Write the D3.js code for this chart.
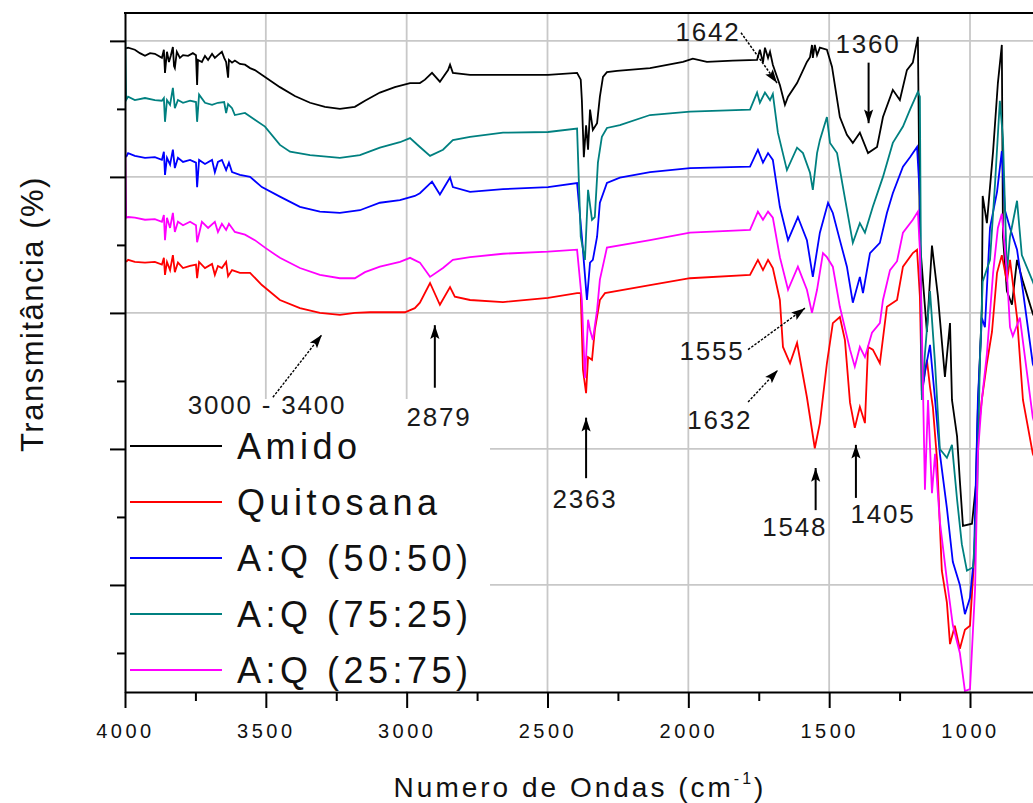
<!DOCTYPE html>
<html>
<head>
<meta charset="utf-8">
<script src="https://cdn.jsdelivr.net/npm/d3@7/dist/d3.min.js"></script>
<style>
  html, body { margin: 0; padding: 0; background: #fff; }
  svg { display: block; font-family: "Liberation Sans", Arial, sans-serif; }
</style>
</head>
<body>
<svg id="chart" width="1033" height="803"></svg>
<script>
// FTIR spectra: [wavenumber (cm-1), transmittance (arbitrary, curves offset)]
const amido = [
  [3996,98.9],[3989,99.0],[3965,98.7],[3947,98.2],[3929,97.8],[3911,98.2],[3894,98.1],[3869,97.5],[3862,98.7],[3858,95.3],
  [3851,98.4],[3844,96.9],[3837,97.9],[3830,99.1],[3826,96.3],[3823,96.0],[3816,98.4],[3805,97.5],[3794,97.9],[3776,97.8],
  [3759,98.2],[3748,97.9],[3744,93.5],[3741,97.2],[3727,96.9],[3716,97.8],[3705,97.2],[3691,98.1],[3681,97.5],[3670,97.9],
  [3656,98.4],[3648,97.5],[3641,96.9],[3634,94.6],[3631,97.2],[3620,96.8],[3610,97.1],[3592,96.6],[3574,96.5],[3556,96.0],
  [3539,95.7],[3503,94.7],[3450,93.2],[3397,91.9],[3343,90.9],[3290,90.3],
  [3237,90.0],[3184,90.3],[3148,91.2],[3095,92.4],[3042,93.2],[2988,93.8],[2953,93.8],[2935,94.3],[2910,95.3],[2882,94.0],
  [2853,95.7],[2846,96.5],[2836,95.3],[2775,95.0],[2498,95.0],[2395,95.3],[2382,94.3],[2378,91.3],[2371,82.9],[2363,87.6],
  [2356,84.0],[2349,89.9],[2339,86.9],[2324,87.9],[2314,91.8],[2303,94.7],[2289,95.4],[2253,95.6],[2136,96.0],[2019,96.9],
  [1984,97.4],[1934,96.9],[1842,97.1],[1756,97.2],[1746,98.7],[1735,96.8],[1728,99.0],[1717,97.5],[1710,98.4],[1700,96.5],
  [1685,94.7],[1675,93.5],[1657,90.6],[1646,91.8],[1614,93.8],[1579,96.9],[1568,97.6],[1561,99.4],[1558,97.5],[1551,99.4],
  [1543,97.9],[1533,99.0],[1508,98.7],[1490,96.2],[1462,88.8],[1437,86.2],[1416,85.0],[1391,86.5],[1362,83.5],[1330,84.4],
  [1309,88.8],[1274,92.8],[1249,91.3],[1224,95.7],[1203,96.8],[1185,100.6],[1178,70.6],[1153,57.2],[1135,69.9],[1114,62.5],
  [1089,50.6],[1071,58.5],[1064,47.2],[1046,41.9],[1036,35.3],[1025,28.7],[993,29.0],[979,34.7],[972,45.9],[958,60.6],
  [955,77.2],[940,73.2],[918,83.8],[901,93.8],[887,99.4],[883,71.2],[869,63.2],[851,61.2],[833,67.8],[812,64.6],
  [777,59.9],[752,57.5]
];

const quitosana = [
  [3996,67.5],[3989,67.8],[3965,67.5],[3929,67.4],[3894,67.5],[3869,67.1],[3862,68.1],[3858,65.6],[3851,67.5],[3840,66.3],
  [3830,68.5],[3823,66.0],[3812,67.4],[3794,66.6],[3769,66.9],[3748,67.1],[3744,65.1],[3737,67.5],[3716,66.6],[3691,67.2],
  [3681,65.6],[3670,66.9],[3656,66.6],[3641,67.5],[3634,65.4],[3620,66.3],[3592,65.9],[3556,65.9],[3514,64.1],
  [3450,61.9],[3379,60.7],
  [3308,60.0],[3237,59.7],[3184,60.0],[3130,60.1],[3059,60.1],[3006,60.1],[2971,60.7],[2953,61.5],[2917,64.4],[2882,61.2],
  [2846,63.8],[2829,62.4],[2775,61.9],[2658,61.6],[2498,62.2],[2395,62.9],[2382,62.9],[2374,51.6],[2363,48.2],[2356,53.5],
  [2342,53.1],[2332,57.5],[2314,61.9],[2296,62.9],[2136,64.1],[1994,65.1],[1781,65.6],[1753,67.8],[1735,66.3],[1717,67.8],
  [1700,66.6],[1675,61.9],[1664,55.0],[1639,52.6],[1614,55.6],[1579,47.6],[1551,40.1],[1533,43.8],[1508,52.6],[1487,58.5],
  [1462,59.4],[1444,56.0],[1426,46.8],[1409,43.1],[1391,46.2],[1373,43.8],[1362,55.0],[1345,54.6],[1320,52.6],[1295,60.9],
  [1259,61.9],[1238,66.8],[1203,68.8],[1188,69.3],[1178,62.5],[1171,48.5],[1153,53.1],[1142,49.1],[1132,46.2],[1117,38.4],
  [1100,22.1],[1082,17.4],[1071,11.3],[1054,14.0],[1036,10.6],[1018,13.4],[1000,14.0],[982,26.0],[972,41.9],[958,47.2],
  [940,52.6],[922,57.2],[904,65.9],[887,68.5],[869,64.6],[858,67.8],[833,59.3],[812,47.2],[777,39.3],[752,36.9]
];

const aq5050 = [
  [3996,82.9],[3989,83.5],[3965,83.1],[3929,82.8],[3894,82.9],[3869,82.5],[3862,83.7],[3858,80.3],[3851,82.8],[3840,81.8],
  [3830,84.0],[3823,81.3],[3812,82.8],[3794,82.2],[3769,82.5],[3748,82.1],[3744,78.5],[3737,82.5],[3716,81.9],[3691,82.5],
  [3681,80.7],[3670,82.2],[3656,82.5],[3641,81.0],[3631,82.1],[3620,80.7],[3592,80.3],[3556,80.0],[3514,78.5],
  [3450,77.1],[3379,75.6],
  [3308,74.9],[3237,74.7],[3166,75.1],[3095,76.2],[3024,76.6],[2971,77.2],[2953,77.6],[2910,79.3],[2882,77.4],[2846,79.9],
  [2836,78.5],[2775,77.8],[2658,78.2],[2498,78.5],[2395,79.1],[2378,71.2],[2360,61.9],[2349,67.4],[2339,67.8],[2324,71.2],
  [2314,76.2],[2289,79.1],[2243,79.9],[2136,80.7],[1994,81.3],[1781,81.5],[1753,84.0],[1735,82.1],[1717,83.5],[1700,82.5],
  [1675,75.6],[1646,70.7],[1611,74.1],[1579,70.7],[1558,65.3],[1533,71.8],[1504,76.2],[1487,74.7],[1462,70.7],[1437,66.8],
  [1416,61.5],[1391,65.3],[1380,62.9],[1355,68.8],[1320,70.3],[1295,74.7],[1274,77.6],[1238,81.5],[1213,82.9],[1188,84.4],
  [1178,77.1],[1171,47.9],[1160,51.3],[1142,55.3],[1124,47.2],[1107,39.3],[1082,31.3],[1061,23.4],[1036,20.0],[1018,15.7],
  [1000,18.1],[986,24.0],[972,47.2],[958,59.3],[947,57.9],[929,72.5],[904,77.8],[887,83.8],[876,75.1],[858,72.5],
  [833,69.3],[812,63.2],[777,52.5],[752,50.1]
];

const aq7525 = [
  [4000,102.1],[3996,91.3],[3989,91.8],[3965,91.3],[3929,91.6],[3894,91.3],[3869,91.2],[3862,91.6],[3858,88.1],[3851,91.3],
  [3840,90.6],[3830,93.1],[3823,90.1],[3812,91.3],[3794,90.9],[3769,91.2],[3748,91.0],[3744,88.1],[3737,92.1],[3716,90.9],
  [3691,90.6],[3670,90.9],[3648,91.0],[3641,89.4],[3634,90.7],[3620,90.1],[3610,89.1],[3574,89.4],[3539,88.4],[3503,87.4],
  [3450,84.7],[3414,83.7],[3343,83.2],[3237,82.8],[3166,83.2],[3095,84.3],[3024,85.1],[2988,85.7],[2953,84.4],[2917,83.1],[2871,84.0],
  [2836,85.4],[2775,85.9],[2658,86.5],[2498,86.6],[2395,87.1],[2382,71.2],[2367,67.8],[2356,78.1],[2342,73.7],[2332,74.1],
  [2321,82.1],[2307,85.9],[2289,87.2],[2243,87.6],[2136,89.1],[1994,89.6],[1781,89.9],[1756,92.4],[1746,90.9],[1728,92.4],
  [1710,91.3],[1700,92.2],[1682,86.5],[1650,81.0],[1614,84.3],[1593,83.5],[1568,80.6],[1558,78.1],[1543,83.5],[1533,85.4],
  [1508,88.8],[1497,85.0],[1472,83.5],[1451,78.5],[1416,70.3],[1391,73.2],[1373,71.8],[1345,75.6],[1309,80.0],[1274,85.0],
  [1238,87.4],[1213,89.9],[1185,92.5],[1178,91.8],[1171,47.2],[1160,54.0],[1142,63.2],[1124,52.5],[1107,40.0],[1082,38.7],
  [1064,40.6],[1046,32.6],[1029,26.0],[1011,22.1],[989,22.6],[975,32.6],[965,52.5],[955,64.6],[929,67.8],[911,79.1],
  [894,91.2],[883,85.7],[869,65.9],[858,71.2],[833,76.5],[816,68.5],[777,64.6],[752,61.9]
];

const aq2575 = [
  [4000,86.3],[3996,74.0],[3989,74.1],[3965,74.0],[3929,73.7],[3894,73.8],[3869,73.4],[3862,74.4],[3858,70.7],[3851,74.0],
  [3840,72.5],[3830,74.7],[3823,71.9],[3812,73.4],[3794,72.9],[3769,73.4],[3748,72.9],[3744,70.4],[3727,73.4],[3705,72.5],
  [3681,73.4],[3670,71.9],[3656,73.1],[3641,72.2],[3631,73.1],[3610,71.9],[3574,71.5],[3539,70.7],[3503,69.6],
  [3450,68.1],[3379,66.6],
  [3308,65.6],[3237,65.1],[3184,65.1],[3148,66.0],[3095,66.8],[3024,67.5],[2988,68.1],[2953,67.4],[2917,65.3],[2871,66.6],
  [2836,67.8],[2775,68.2],[2658,68.7],[2498,69.0],[2395,69.3],[2378,61.9],[2367,50.4],[2356,59.0],[2349,57.5],[2339,56.0],
  [2324,60.4],[2314,64.9],[2289,69.6],[2136,70.7],[1994,71.8],[1781,72.2],[1753,74.9],[1735,73.7],[1717,74.9],[1700,74.0],
  [1675,68.2],[1646,63.4],[1611,66.8],[1579,63.4],[1561,60.0],[1543,63.4],[1522,68.8],[1508,68.2],[1487,66.8],[1462,60.9],
  [1426,54.6],[1409,52.1],[1391,55.0],[1373,53.5],[1348,57.1],[1320,58.5],[1309,61.9],[1284,66.3],[1259,67.6],[1238,71.8],
  [1203,73.7],[1185,74.9],[1178,69.3],[1171,57.9],[1160,34.0],[1149,47.2],[1135,33.5],[1124,39.3],[1107,29.3],[1082,20.7],
  [1061,14.1],[1036,10.0],[1018,4.4],[1000,4.7],[982,19.4],[972,39.3],[958,47.2],[940,54.0],[918,65.9],[901,72.5],
  [887,74.6],[869,65.9],[858,57.9],[848,56.6],[823,59.3],[798,51.3],[777,44.6],[752,41.3]
];

const seriesNames  = ["Amido", "Quitosana", "A:Q (50:50)", "A:Q (75:25)", "A:Q (25:75)"];
const seriesData   = [amido, quitosana, aq5050, aq7525, aq2575];
const seriesColors = ["#000000", "#ff0000", "#0000ff", "#008080", "#ff00ff"];

const xTicksMajor = [4000, 3500, 3000, 2500, 2000, 1500, 1000];
const xTicksMinor = [3750, 3250, 2750, 2250, 1750, 1250, 750];
const yTicksMajor = [100, 80, 60, 40, 20];
const yTicksMinor = [90, 70, 50, 30, 10];

// Band assignments: label position, arrow tail and arrow tip (wavenumber, transmittance)
const annotations = [
  { label: "1642",        at: [1930, 101.3], from: [1813, 101.2], to: [1685, 93.8], dashed: true  },
  { label: "1360",        at: [1362, 99.6],  from: [1360, 96.8],  to: [1360, 87.9], dashed: false },
  { label: "3000 - 3400", at: [3496, 46.5],  from: [3475, 47.6],  to: [3301, 56.8], dashed: true  },
  { label: "2879",        at: [2885, 44.7],  from: [2900, 49.0],  to: [2900, 58.2], dashed: false },
  { label: "2363",        at: [2367, 32.6],  from: [2363, 35.7],  to: [2363, 44.6], dashed: false },
  { label: "1555",        at: [1916, 54.4],  from: [1788, 54.6],  to: [1586, 60.7], dashed: true  },
  { label: "1632",        at: [1888, 44.3],  from: [1788, 46.9],  to: [1682, 51.6], dashed: true  },
  { label: "1548",        at: [1622, 28.5],  from: [1548, 31.0],  to: [1548, 37.2], dashed: false },
  { label: "1405",        at: [1309, 30.4],  from: [1405, 32.8],  to: [1405, 40.6], dashed: false }
];

// ---- layout ----
const plot = { left: 125, top: 13, right: 1139, bottom: 692 };
const svg = d3.select("#chart");

const x = d3.scaleLinear().domain([4000, 400]).range([plot.left, plot.right]);
const y = d3.scaleLinear().domain([4.26, 104.1]).range([plot.bottom, plot.top]);

const defs = svg.append("defs");
defs.append("clipPath").attr("id", "plotClip")
  .append("rect")
  .attr("x", plot.left).attr("y", plot.top)
  .attr("width", plot.right - plot.left).attr("height", plot.bottom - plot.top);

defs.append("marker")
  .attr("id", "arrowHead")
  .attr("viewBox", "0 -6 16 12")
  .attr("refX", 15).attr("refY", 0)
  .attr("markerUnits", "userSpaceOnUse")
  .attr("markerWidth", 15).attr("markerHeight", 11)
  .attr("orient", "auto")
  .append("path")
  .attr("d", "M0,-5 L15,0 L0,5 L3,0 Z")
  .attr("fill", "#000");

// ---- grid ----
const grid = svg.append("g").attr("stroke", "#c8c8c8").attr("stroke-width", 1.8);
grid.selectAll("line.v")
  .data(xTicksMajor.filter(d => d !== 4000))
  .join("line").attr("class", "v")
  .attr("x1", d => x(d)).attr("x2", d => x(d))
  .attr("y1", plot.top).attr("y2", plot.bottom);
grid.selectAll("line.h")
  .data(yTicksMajor)
  .join("line").attr("class", "h")
  .attr("x1", plot.left).attr("x2", plot.right)
  .attr("y1", d => y(d)).attr("y2", d => y(d));

// ---- spectra ----
const line = d3.line().x(d => x(d[0])).y(d => y(d[1]));
svg.append("g").attr("clip-path", "url(#plotClip)")
  .selectAll("path")
  .data(seriesData)
  .join("path")
  .attr("d", line)
  .attr("fill", "none")
  .attr("stroke", (d, i) => seriesColors[i])
  .attr("stroke-width", 1.8)
  .attr("stroke-linejoin", "miter");

// ---- legend ----
const legend = svg.append("g");
legend.append("rect")
  .attr("x", plot.left + 1).attr("y", 399)
  .attr("width", 364).attr("height", plot.bottom - 399 - 1)
  .attr("fill", "#fff");
const rows = legend.selectAll("g.row")
  .data(seriesNames)
  .join("g").attr("class", "row")
  .attr("transform", (d, i) => `translate(0,${446 + i * 56})`);
rows.append("line")
  .attr("x1", 130).attr("x2", 222)
  .attr("stroke", (d, i) => seriesColors[i])
  .attr("stroke-width", 1.8);
rows.append("text")
  .attr("x", 237).attr("dy", "0.35em")
  .attr("font-size", 36)
  .attr("letter-spacing", 4.5)
  .attr("fill", "#111")
  .text(d => d);

// ---- annotations ----
const ann = svg.append("g");
ann.selectAll("line")
  .data(annotations)
  .join("line")
  .attr("x1", d => x(d.from[0])).attr("y1", d => y(d.from[1]))
  .attr("x2", d => x(d.to[0])).attr("y2", d => y(d.to[1]))
  .attr("stroke", "#000")
  .attr("stroke-width", d => d.dashed ? 1.4 : 2)
  .attr("stroke-dasharray", d => d.dashed ? "2.5,1.5" : null)
  .attr("marker-end", "url(#arrowHead)");
ann.selectAll("text")
  .data(annotations)
  .join("text")
  .attr("x", d => x(d.at[0])).attr("y", d => y(d.at[1]))
  .attr("dy", "0.35em")
  .attr("text-anchor", "middle")
  .attr("font-size", 26)
  .attr("letter-spacing", 1.8)
  .attr("fill", "#1a1a1a")
  .text(d => d.label);

// ---- axes ----
const axisColor = "#000";
const xMajor = svg.append("g")
  .attr("transform", `translate(0,${plot.bottom})`)
  .call(d3.axisBottom(x).tickValues(xTicksMajor).tickSize(16).tickSizeOuter(0)
        .tickPadding(16).tickFormat(d3.format("d")));
const xMinor = svg.append("g")
  .attr("transform", `translate(0,${plot.bottom})`)
  .call(d3.axisBottom(x).tickValues(xTicksMinor).tickSize(9).tickSizeOuter(0).tickFormat(""));
xMinor.select(".domain").remove();

const yMajor = svg.append("g")
  .attr("transform", `translate(${plot.left},0)`)
  .call(d3.axisLeft(y).tickValues(yTicksMajor).tickSize(15).tickSizeOuter(0).tickFormat(""));
const yMinor = svg.append("g")
  .attr("transform", `translate(${plot.left},0)`)
  .call(d3.axisLeft(y).tickValues(yTicksMinor).tickSize(8).tickSizeOuter(0).tickFormat(""));
yMinor.select(".domain").remove();

[xMajor, xMinor, yMajor, yMinor].forEach(g => {
  g.attr("color", axisColor);
  g.selectAll(".domain").attr("stroke-width", 2);
  g.selectAll(".tick line").attr("stroke-width", 2);
});
xMajor.selectAll(".tick text")
  .attr("font-size", 20)
  .attr("letter-spacing", 3.5)
  .attr("font-family", "'Liberation Sans', Arial, sans-serif")
  .attr("fill", "#111");

// top frame
svg.append("line")
  .attr("x1", plot.left - 1).attr("x2", plot.right)
  .attr("y1", plot.top).attr("y2", plot.top)
  .attr("stroke", axisColor).attr("stroke-width", 2);

// ---- axis titles ----
const xTitle = svg.append("text")
  .attr("x", 580).attr("y", 797)
  .attr("text-anchor", "middle")
  .attr("font-size", 28)
  .attr("letter-spacing", 3)
  .attr("fill", "#111");
xTitle.append("tspan").text("Numero de Ondas (cm");
xTitle.append("tspan").attr("font-size", 16).attr("dy", -13).text("-1");
xTitle.append("tspan").attr("dy", 13).text(")");

svg.append("text")
  .attr("transform", "translate(43,314) rotate(-90)")
  .attr("text-anchor", "middle")
  .attr("font-size", 31)
  .attr("letter-spacing", 1.5)
  .attr("fill", "#111")
  .text("Transmitância (%)");
</script>
</body>
</html>
